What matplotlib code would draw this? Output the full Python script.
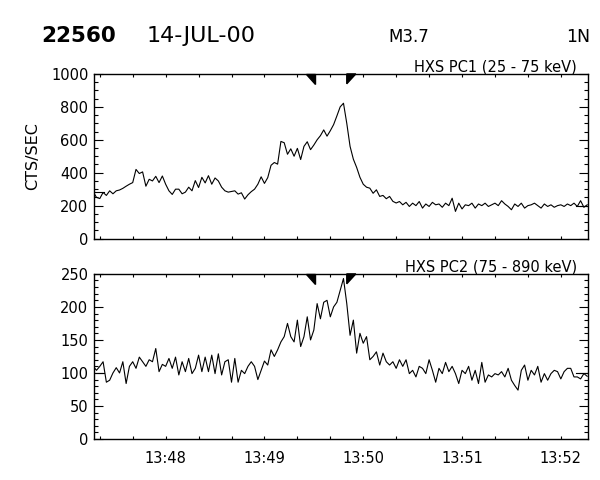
import numpy as np
import matplotlib
matplotlib.use('Agg')
import matplotlib.pyplot as plt
from matplotlib.patches import Polygon
from matplotlib.ticker import FixedLocator, MultipleLocator
import matplotlib.transforms as mtransforms

# time axis: seconds after 13:47:00, 2 s samples starting at 13:47:16
t_start = 16
t_step = 2
x_range = (16.5, 316.5)

# HXS PC1 (25 - 75 keV) counts/s
pc1 = [284, 250, 243, 280, 262, 290, 272, 290, 295, 305,
       318, 330, 340, 420, 395, 405, 318, 360, 350, 378,
       340, 380, 330, 290, 268, 300, 300, 272, 282, 312,
       290, 352, 310, 372, 338, 382, 330, 368, 350, 312,
       290, 282, 286, 290, 270, 278, 240, 266, 285, 300,
       330, 375, 335, 370, 445, 462, 452, 590, 582, 512,
       545, 500, 548, 480, 560, 588, 540, 568, 600, 625,
       660, 622, 655, 692, 745, 800, 822, 700, 560, 482,
       432, 372, 330, 312, 306, 275, 296, 256, 262, 242,
       256, 226, 216, 225, 205, 220, 195, 215, 200, 225,
       185, 210, 195, 220, 205, 210, 190, 215, 200, 245,
       165, 215, 180, 205, 200, 215, 185, 210, 200, 215,
       195, 205, 215, 200, 230, 210, 195, 175, 210, 195,
       215, 185, 200, 205, 215, 200, 185, 210, 195, 205,
       190, 200, 205, 195, 210, 200, 215, 195, 230, 190,
       205]

# HXS PC2 (75 - 890 keV) counts/s
pc2 = [110, 104, 110, 117, 86, 89, 100, 108, 100, 117,
       84, 110, 117, 107, 124, 117, 110, 120, 117, 137,
       102, 113, 110, 122, 107, 124, 97, 117, 102, 122,
       99, 107, 127, 102, 124, 102, 127, 99, 129, 97,
       117, 120, 86, 122, 86, 104, 99, 110, 117, 110,
       90, 104, 118, 112, 135, 125, 135, 147, 155, 175,
       155, 147, 180, 140, 155, 185, 150, 165, 205, 182,
       207, 210, 185, 200, 207, 225, 243, 205, 157, 180,
       130, 160, 145, 155, 120, 125, 132, 112, 130, 117,
       112, 117, 107, 120, 110, 120, 99, 104, 94, 110,
       107, 99, 120, 104, 86, 107, 99, 116, 102, 110,
       99, 84, 104, 99, 110, 89, 104, 84, 116, 86,
       97, 94, 99, 97, 102, 94, 107, 89, 81, 74,
       104, 112, 89, 104, 97, 110, 86, 99, 89, 99,
       104, 102, 91, 102, 107, 107, 94, 94, 91, 99,
       95]

# background levels marked at both ends (left, right)
pc1_bg = [280, 195]
pc2_bg = [100, 100]

# interval markers (s after 13:47:00)
mark_times = [151, 170]

tick_times = [60, 120, 180, 240, 300]
tick_labels = ['13:48', '13:49', '13:50', '13:51', '13:52']

plt.rcParams['font.family'] = ['DejaVu Sans']
fig = plt.figure(figsize=(6, 4.8), dpi=100)

ax1 = fig.add_axes([0.1567, 0.503, 0.8233, 0.343])
ax2 = fig.add_axes([0.1567, 0.0854, 0.8233, 0.344])


def style_axis(ax, vals, bg, ylim, ymaj, ymin, title, show_x):
    t = t_start + t_step * np.arange(len(vals))
    ax.plot(t, vals, color='black', lw=0.8)
    ax.plot([x_range[0], x_range[0] + 6], [bg[0], bg[0]], color='black', lw=0.8)
    ax.plot([x_range[1] - 7, x_range[1]], [bg[1], bg[1]], color='black', lw=0.8)
    ax.set_xlim(*x_range)
    ax.set_ylim(*ylim)
    ax.xaxis.set_major_locator(FixedLocator(tick_times))
    minor = [s for s in range(20, 317, 20) if s not in tick_times]
    ax.xaxis.set_minor_locator(FixedLocator(minor))
    if show_x:
        ax.set_xticklabels(tick_labels)
    else:
        ax.set_xticklabels([])
    ax.yaxis.set_major_locator(MultipleLocator(ymaj))
    ax.yaxis.set_minor_locator(MultipleLocator(ymin))
    ax.tick_params(axis='x', which='both', direction='in', top=True, bottom=True,
                   length=2.5, width=0.8, labelsize=10.5, pad=8.5)
    ax.tick_params(axis='y', which='major', direction='in', left=True, right=True,
                   length=6.5, width=0.8, labelsize=10.5, pad=4)
    ax.tick_params(axis='y', which='minor', direction='in', left=True, right=True,
                   length=3.2, width=0.8)
    for s in ax.spines.values():
        s.set_linewidth(1.0)
    ax.annotate(title, xy=(1, 1), xycoords='axes fraction', xytext=(-8, 2),
                textcoords='offset points', ha='right', va='baseline', fontsize=10.5)
    # interval markers on top edge
    trans = mtransforms.blended_transform_factory(ax.transData, ax.transAxes)
    h = 0.06
    left = Polygon([(mark_times[0] - 5.5, 1), (mark_times[0], 1), (mark_times[0], 1 - h)],
                   closed=True, color='black', transform=trans, clip_on=False)
    right = Polygon([(mark_times[1], 1), (mark_times[1] + 5.5, 1), (mark_times[1], 1 - h)],
                    closed=True, color='black', transform=trans, clip_on=False)
    ax.add_patch(left)
    ax.add_patch(right)


style_axis(ax1, pc1, pc1_bg, (0, 1000), 200, 50, 'HXS PC1 (25 - 75 keV)', False)
style_axis(ax2, pc2, pc2_bg, (0, 250), 50, 10, 'HXS PC2 (75 - 890 keV)', True)
ax1.set_ylabel('CTS/SEC', fontsize=11.5, labelpad=8)

# header
fig.text(0.068, 0.9135, '22560', fontsize=15.5, fontweight='bold', va='baseline')
fig.text(0.245, 0.9135, '14-JUL-00', fontsize=16, va='baseline')
fig.text(0.647, 0.9135, 'M3.7', fontsize=12, va='baseline')
fig.text(0.983, 0.9135, '1N', fontsize=12.5, ha='right', va='baseline')

fig.savefig('out.png', dpi=100)
